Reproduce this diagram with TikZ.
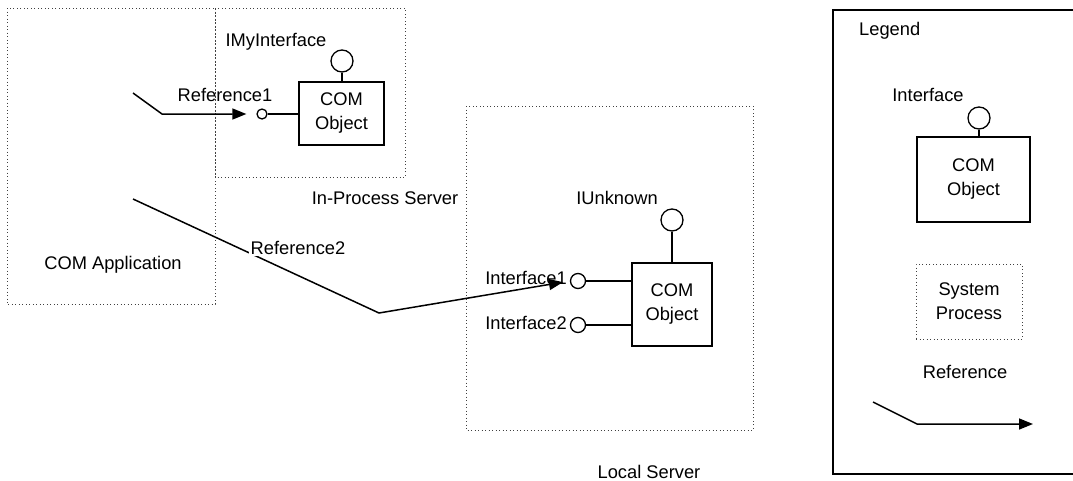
\documentclass[tikz,border=0pt]{standalone}
\usepackage{fontspec}
\setmainfont{Liberation Sans}
\usetikzlibrary{arrows.meta}

\begin{document}
\begin{tikzpicture}[x=1pt,y=-1pt,
  every node/.style={font=\fontsize{18.3}{24}\selectfont, inner sep=0pt},
  proc/.style={draw=black!75, line width=0.9pt, dash pattern=on 0.9pt off 2.6pt},
  obj/.style={draw, line width=1.4pt, align=center},
  iface/.style={draw, line width=1.3pt, circle, fill=white, minimum size=#1},
  iface/.default=22pt,
  wire/.style={line width=1.3pt},
  refline/.style={line width=1.5pt, -{Triangle[length=14pt,width=11pt]}},
  lbl/.style={anchor=base},
]
\useasboundingbox (0,0) rectangle (1073,480);

% ---- system processes (dotted boxes) ----
\draw[proc] (7,8) rectangle (215,304);
\draw[proc] (215,8) rectangle (405,177);
\draw[proc] (466,106) rectangle (753,430);

\node[lbl] (appname) at (113,269) {COM Application};
\node[lbl] (inprocname) at (385,204) {In-Process Server};
\node[lbl] (localname) at (649,478) {Local Server};

% ---- in-process COM object ----
\node[obj, minimum width=85pt, minimum height=63pt] (obj1) at (341.5,113.5) {COM\\Object};
\node[iface] (iu1) at (342,61) {};
\draw[wire] (iu1.south) -- (obj1.north -| iu1.south);
\node[lbl] (imyname) at (276,46) {IMyInterface};
\node[iface=10pt] (imy) at (262,114) {};
\draw[wire] (imy.east) -- (obj1.west |- imy.east);

% ---- local COM object ----
\node[obj, minimum width=80pt, minimum height=83pt] (obj2) at (672,304.5) {COM\\Object};
\node[iface] (iu2) at (672,220) {};
\draw[wire] (iu2.south) -- (obj2.north -| iu2.south);
\node[lbl] (iuname) at (617,204) {IUnknown};
\node[iface=15pt] (if1) at (578,281) {};
\node[iface=15pt] (if2) at (578,325) {};
\draw[wire] (if1.east) -- (obj2.west |- if1.east);
\draw[wire] (if2.east) -- (obj2.west |- if2.east);
\node[lbl] (if1name) at (526,284) {Interface1};
\node[lbl] (if2name) at (526,329) {Interface2};

% ---- references from the application ----
\coordinate (r1a) at (133,93);
\coordinate (r1b) at (162,114);
\draw[refline, shorten >=10pt] (r1a) -- (r1b) -- (imy.west);
\node[lbl] (r1name) at (225,101) {Reference1};

\coordinate (r2a) at (133,199);
\coordinate (r2b) at (379,313);
\draw[refline, shorten >=7pt] (r2a) -- (r2b) -- (if1.west);
\node[lbl, fill=white, inner sep=1.5pt] (r2name) at (298,254) {Reference2};

% ---- legend ----
\draw[line width=1.4pt] (1085,10) -- (833,10) -- (833,474) -- (1085,474);
\node[lbl, anchor=base west] (legname) at (859,35) {Legend};

\node[lbl] (lifname) at (928,101) {Interface};
\node[iface] (liu) at (979,118) {};
\node[obj, minimum width=113pt, minimum height=85pt] (lobj) at (973.5,179.5) {COM\\Object};
\draw[wire] (liu.south) -- (lobj.north -| liu.south);

\node[proc, minimum width=106pt, minimum height=75pt, align=center] (lproc) at (969,301.5) {System\\Process};

\coordinate (lra) at (873,402);
\coordinate (lrb) at (917,424);
\coordinate (lrc) at (1033,424);
\draw[refline] (lra) -- (lrb) -- (lrc);
\node[lbl] (lrname) at (965,378) {Reference};
\end{tikzpicture}
\end{document}
